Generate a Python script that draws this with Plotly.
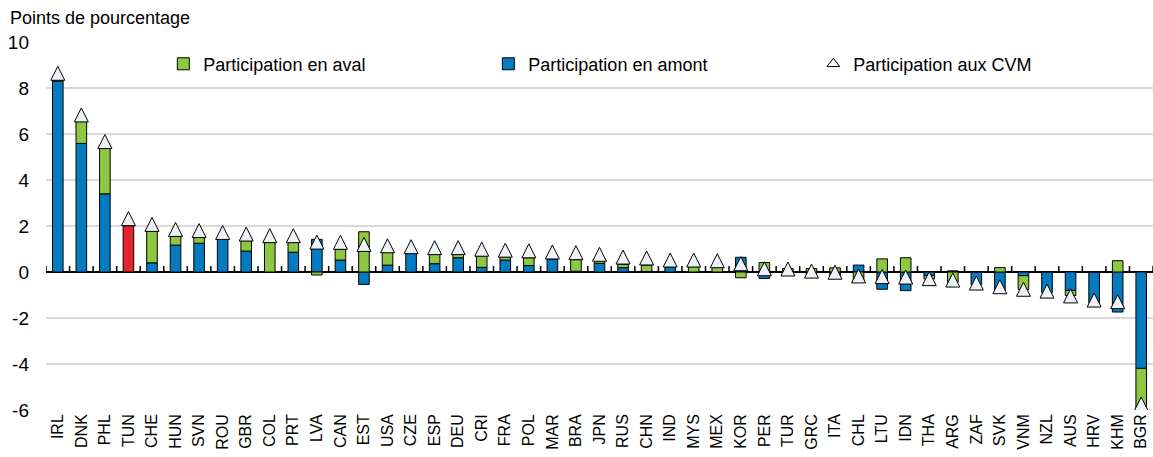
import plotly.graph_objects as go

countries = ["IRL", "DNK", "PHL", "TUN", "CHE", "HUN", "SVN", "ROU", "GBR", "COL",
             "PRT", "LVA", "CAN", "EST", "USA", "CZE", "ESP", "DEU", "CRI", "FRA",
             "POL", "MAR", "BRA", "JPN", "RUS", "CHN", "IND", "MYS", "MEX", "KOR",
             "PER", "TUR", "GRC", "ITA", "CHL", "LTU", "IDN", "THA", "ARG", "ZAF",
             "SVK", "VNM", "NZL", "AUS", "HRV", "KHM", "BGR"]

# Participation en amont (blue)
upstream = [8.30, 5.59, 3.40, None, 0.40, 1.17, 1.25, 1.43, 0.91, 0.0,
            0.86, 1.42, 0.52, -0.54, 0.30, 0.81, 0.36, 0.62, 0.20, 0.52,
            0.28, 0.57, 0.03, 0.38, 0.19, 0.02, 0.23, 0.0, 0.0, 0.64,
            -0.28, 0.05, -0.10, -0.20, 0.30, -0.75, -0.81, -0.15, 0.05, -0.55,
            -0.83, -0.16, -0.90, -0.80, -1.35, -1.74, -4.19]

# Participation en aval (green)
downstream = [0.05, 0.95, 1.98, None, 1.38, 0.39, 0.26, 0.0, 0.45, 1.29,
              0.42, -0.13, 0.47, 1.75, 0.56, 0.0, 0.41, 0.15, 0.50, 0.13,
              0.34, 0.0, 0.51, 0.17, 0.14, 0.28, 0.0, 0.23, 0.20, -0.25,
              0.41, 0.10, 0.15, 0.18, -0.45, 0.57, 0.62, -0.15, -0.45, 0.0,
              0.19, -0.60, 0.0, -0.22, 0.0, 0.49, -1.74]

# Tunisia (highlighted, total)
tunisia = [None, None, None, 2.01] + [None] * 43

# Participation aux CVM (triangles)
cvm = [8.64, 6.83, 5.67, 2.32, 2.07, 1.85, 1.80, 1.72, 1.65, 1.58,
       1.58, 1.30, 1.29, 1.20, 1.14, 1.10, 1.06, 1.06, 0.99, 0.95,
       0.92, 0.87, 0.84, 0.77, 0.65, 0.61, 0.52, 0.52, 0.49, 0.36,
       0.14, 0.13, 0.04, -0.01, -0.17, -0.20, -0.22, -0.29, -0.35, -0.48,
       -0.64, -0.75, -0.83, -1.04, -1.22, -1.29, -5.74]

y_ticks = [-6, -4, -2, 0, 2, 4, 6, 8, 10]
y_tick_labels = ["-6", "-4", "-2", "0", "2", "4", "6", "8", "10"]

BLUE = "#037BC1"
GREEN = "#8CC841"
RED = "#E3242B"
TRI_FILL = "#EEF1F7"

W, H = 1153, 457
MT, MB, ML, MR = 42, 47, 46, 0
YMIN, YMAX = -6, 10
px_per_unit = (H - MT - MB) / (YMAX - YMIN)
TRI = 14  # marker size in px (arrow-up: tip at anchor, height = size)

fig = go.Figure()
fig.add_trace(go.Bar(x=countries, y=upstream, name="Participation en amont",
                     marker=dict(color=BLUE, line=dict(color="black", width=1)),
                     legendrank=2))
fig.add_trace(go.Bar(x=countries, y=downstream, name="Participation en aval",
                     marker=dict(color=GREEN, line=dict(color="black", width=1)),
                     legendrank=1))
fig.add_trace(go.Bar(x=countries, y=tunisia, name="TUN", showlegend=False,
                     marker=dict(color=RED, line=dict(color="black", width=1))))

# triangles: centre of the triangle at the CVM value
tri_y = [v + (TRI / 2) / px_per_unit for v in cvm]
fig.add_trace(go.Scatter(x=countries, y=tri_y, mode="markers", showlegend=False,
                         marker=dict(symbol="arrow-up", size=TRI, color=TRI_FILL,
                                     line=dict(color="black", width=1)),
                         hovertext=[f"{c}: {v}" for c, v in zip(countries, cvm)]))
fig.add_trace(go.Scatter(x=[None], y=[None], mode="markers", name="Participation aux CVM",
                         marker=dict(symbol="triangle-up", size=11, color="white",
                                     line=dict(color="black", width=1)),
                         legendrank=3))

# small category-boundary ticks sitting on the zero line
for i in range(len(countries) + 1):
    fig.add_shape(type="line", xref="x", yref="y", x0=i - 0.5, x1=i - 0.5,
                  ysizemode="pixel", yanchor=0, y0=0, y1=6,
                  line=dict(color="black", width=1.5))

fig.add_annotation(text="Points de pourcentage", xref="paper", yref="paper",
                   x=0, y=1, xanchor="left", yanchor="middle",
                   xshift=-38, yshift=24, showarrow=False,
                   font=dict(size=18, color="black"))

NARROW = "Liberation Sans Narrow, Arial Narrow, Liberation Sans, Arial"

fig.update_layout(
    width=W, height=H,
    margin=dict(l=ML, r=MR, t=MT, b=MB),
    paper_bgcolor="white", plot_bgcolor="white",
    barmode="relative", bargap=0.55,
    font=dict(family=NARROW, size=18, color="black"),
    showlegend=True,
    legend=dict(orientation="h", x=0.106, y=0.94, xanchor="left", yanchor="middle",
                bgcolor="rgba(255,255,255,0)", entrywidth=280,
                font=dict(family=NARROW, size=18, color="black"),
                itemclick=False),
    xaxis=dict(type="category", range=[-0.5, len(countries) - 0.5],
               tickangle=-90, ticks="", showgrid=False, showline=False,
               tickfont=dict(family="Liberation Sans, Arial", size=16, color="black")),
    yaxis=dict(range=[YMIN, YMAX], tickvals=y_ticks, ticktext=y_tick_labels, ticks="",
               showgrid=True, gridcolor="#D9D9D9", gridwidth=2,
               zeroline=True, zerolinecolor="black", zerolinewidth=1.5,
               showline=False, ticklabelstandoff=16,
               tickfont=dict(family=NARROW, size=19, color="black")),
)

fig.write_html("out.html", config={"displayModeBar": False},
               post_script="document.body.style.margin='0';document.body.style.overflow='hidden';")
